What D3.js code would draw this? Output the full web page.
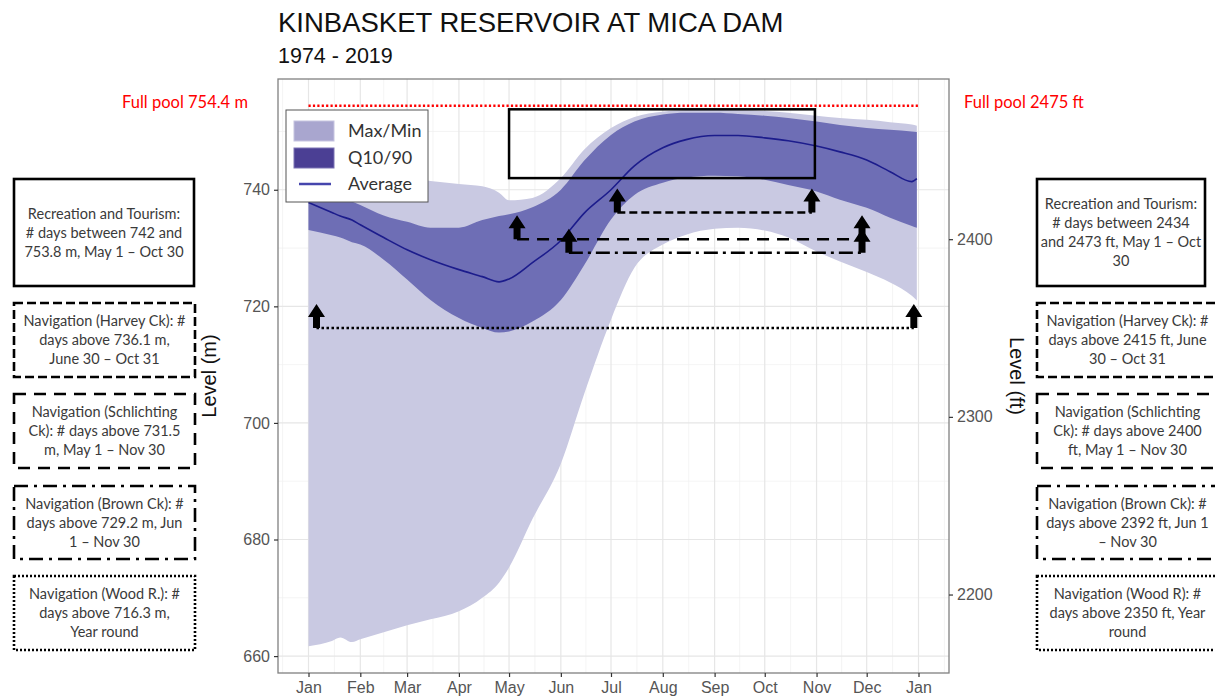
<!DOCTYPE html>
<html>
<head>
<meta charset="utf-8">
<script src="https://cdn.jsdelivr.net/npm/d3@7"></script>
<style>
body { margin: 0; background: #fff; }
.note { font-family: Lato, "Open Sans", sans-serif; font-size: 14.5px; fill: #3a3a3a; }
.tick text { font-family: "Liberation Sans", Arial, sans-serif; font-size: 16px; fill: #555; }
</style>
</head>
<body>
<div id="chart"></div>
<script>
// ---- data ----
var days = ["2019-01-01","2019-01-15","2019-01-20","2019-01-27","2019-02-01","2019-02-15","2019-03-01","2019-03-15",
            "2019-04-01","2019-04-15","2019-04-25","2019-05-01","2019-05-15","2019-06-01","2019-06-15","2019-07-01",
            "2019-07-15","2019-08-01","2019-08-15","2019-09-01","2019-09-15","2019-10-01","2019-10-15","2019-11-01",
            "2019-11-15","2019-12-01","2019-12-15","2019-12-28","2019-12-31"];
var maxLevel = [743, 742.5, 742.3, 742, 741.8, 741.6, 742, 741.5, 741, 740.6, 739.5, 738.2, 738.6, 742, 746.9, 750.6,
                752.5, 753.4, 753.7, 753.7, 753.7, 753.5, 753.2, 752.7, 752.3, 752, 751.6, 751.2, 751];
var q90Level = [739.8, 739, 738.5, 738, 737.4, 735.6, 734.5, 733.5, 733.5, 734.8, 735.5, 735.8, 737, 740, 745, 749.4,
                751.7, 752.9, 753.2, 753.2, 753, 752.7, 752.3, 751.7, 751.1, 750.6, 750.3, 750, 749.9];
var avgLevel = [737.8, 736.1, 735.5, 734.8, 734, 731.8, 729.7, 728, 726.3, 725.1, 724.2, 724.7, 727.5, 731.3, 736, 740,
                744.1, 747.2, 748.6, 749.3, 749.3, 748.9, 748.4, 747.5, 746.5, 745.1, 743.1, 741.4, 741.9];
var q10Level = [733.1, 732.2, 731.8, 731, 730.6, 728, 724.6, 721.1, 718, 716.3, 715.5, 715.7, 717.4, 721.1, 727.1, 734.9,
                739.1, 741.2, 742.1, 742.4, 742.3, 741.7, 740.8, 739.7, 738.3, 736.9, 735.2, 733.8, 733.5];
var minLevel = [661.7, 662.6, 663.2, 662.4, 662.9, 664.1, 665.3, 666.3, 667.7, 670, 672.6, 675.2, 683.5, 693, 705, 717.7,
                726.6, 730.6, 732.3, 733.3, 733.5, 733, 731.8, 729.4, 727.7, 725.9, 724.1, 721.8, 721];

var levelTicksM = [660, 680, 700, 720, 740];
var levelTicksFt = [2200, 2300, 2400];
var fullPoolM = 754.4;
var fullPoolFt = 2475;

var recLow = 742, recHigh = 753.8, recStart = "2019-05-01", recEnd = "2019-10-31";
var navLevels = [736.1, 731.5, 729.2, 716.3];
var navStart = ["2019-06-30", "2019-05-01", "2019-06-01", "2019-01-01"];
var navEnd = ["2019-10-31", "2019-11-30", "2019-11-30", "2019-12-31"];

var leftNotes = [
    ["Recreation and Tourism:", "# days between 742 and", "753.8 m, May 1 \u2013 Oct 30"],
    ["Navigation (Harvey Ck): #", "days above 736.1 m,", "June 30 \u2013 Oct 31"],
    ["Navigation (Schlichting", "Ck): # days above 731.5", "m, May 1 \u2013 Nov 30"],
    ["Navigation (Brown Ck): #", "days above 729.2 m, Jun", "1 \u2013 Nov 30"],
    ["Navigation (Wood R.): #", "days above 716.3 m,", "Year round"]
];
var rightNotes = [
    ["Recreation and Tourism:", "# days between 2434", "and 2473 ft, May 1 \u2013 Oct", "30"],
    ["Navigation (Harvey Ck): #", "days above 2415 ft, June", "30 \u2013 Oct 31"],
    ["Navigation (Schlichting", "Ck): # days above 2400", "ft, May 1 \u2013 Nov 30"],
    ["Navigation (Brown Ck): #", "days above 2392 ft, Jun 1", "\u2013 Nov 30"],
    ["Navigation (Wood R): #", "days above 2350 ft, Year", "round"]
];
var legendLabels = ["Max/Min", "Q10/90", "Average"];

// ---- layout ----
var svgWidth = 1215;
var svgHeight = 698;
var margin = { top: 79, right: 266, bottom: 25, left: 278 };
var width = svgWidth - margin.left - margin.right;
var height = svgHeight - margin.top - margin.bottom;

var parseDay = d3.timeParse("%Y-%m-%d");
var data = days.map(function(d, i) {
    return { date: parseDay(d), max: maxLevel[i], q90: q90Level[i], avg: avgLevel[i], q10: q10Level[i], min: minLevel[i] };
});

var svg = d3.select("#chart").append("svg")
    .attr("width", svgWidth)
    .attr("height", svgHeight)
    .style("font-family", "'Liberation Sans', Arial, sans-serif");

var chartGroup = svg.append("g")
    .attr("transform", `translate(${margin.left}, ${margin.top})`);

// 5% padding on the time axis like ggplot
var yearStart = parseDay("2019-01-01"), yearEnd = parseDay("2020-01-01");
var pad = (yearEnd - yearStart) * 0.05;
var xTimeScale = d3.scaleTime()
    .domain([new Date(+yearStart - pad), new Date(+yearEnd + pad)])
    .range([0, width]);

var yLinearScale = d3.scaleLinear()
    .domain([657.1, 759])
    .range([height, 0]);
var yFeetScale = d3.scaleLinear()
    .domain(yLinearScale.domain().map(function(m) { return m / 0.3048; }))
    .range([height, 0]);

// grid
var majorX = d3.timeMonth.range(yearStart, d3.timeMonth.offset(yearEnd, 1));
var minorX = d3.range(-1, majorX.length).map(function(i) {
    var a = d3.timeMonth.offset(yearStart, i), b = d3.timeMonth.offset(yearStart, i + 1);
    return new Date((+a + +b) / 2);
});
var grid = chartGroup.append("g");
grid.selectAll(".minx").data(minorX).enter().append("line")
    .attr("x1", d => xTimeScale(d)).attr("x2", d => xTimeScale(d))
    .attr("y1", 0).attr("y2", height)
    .attr("stroke", "#efefef").attr("stroke-width", 0.7);
grid.selectAll(".miny").data([670, 690, 710, 730, 750]).enter().append("line")
    .attr("x1", 0).attr("x2", width)
    .attr("y1", d => yLinearScale(d)).attr("y2", d => yLinearScale(d))
    .attr("stroke", "#efefef").attr("stroke-width", 0.7);
grid.selectAll(".majx").data(majorX).enter().append("line")
    .attr("x1", d => xTimeScale(d)).attr("x2", d => xTimeScale(d))
    .attr("y1", 0).attr("y2", height)
    .attr("stroke", "#e6e6e6").attr("stroke-width", 1.2);
grid.selectAll(".majy").data(levelTicksM).enter().append("line")
    .attr("x1", 0).attr("x2", width)
    .attr("y1", d => yLinearScale(d)).attr("y2", d => yLinearScale(d))
    .attr("stroke", "#e6e6e6").attr("stroke-width", 1.2);

// bands
var outerArea = d3.area()
    .x(d => xTimeScale(d.date))
    .y0(d => yLinearScale(d.min))
    .y1(d => yLinearScale(d.max))
    .curve(d3.curveMonotoneX);
var innerArea = d3.area()
    .x(d => xTimeScale(d.date))
    .y0(d => yLinearScale(d.q10))
    .y1(d => yLinearScale(d.q90))
    .curve(d3.curveMonotoneX);
var avgLine = d3.line()
    .x(d => xTimeScale(d.date))
    .y(d => yLinearScale(d.avg))
    .curve(d3.curveMonotoneX);

chartGroup.append("path").datum(data).attr("d", outerArea).attr("fill", "#c9c9e2");
chartGroup.append("path").datum(data).attr("d", innerArea).attr("fill", "#6e6eb5");
chartGroup.append("path").datum(data).attr("d", avgLine)
    .attr("fill", "none").attr("stroke", "#1c1c8c").attr("stroke-width", 1.6);

// full pool
chartGroup.append("line")
    .attr("x1", xTimeScale(yearStart)).attr("x2", xTimeScale(yearEnd))
    .attr("y1", yLinearScale(fullPoolM)).attr("y2", yLinearScale(fullPoolM))
    .attr("stroke", "#ff0000").attr("stroke-width", 2.4).attr("stroke-dasharray", "2.2 2.2");

// recreation window
chartGroup.append("rect")
    .attr("x", xTimeScale(parseDay(recStart)))
    .attr("y", yLinearScale(recHigh))
    .attr("width", xTimeScale(parseDay(recEnd)) - xTimeScale(parseDay(recStart)))
    .attr("height", yLinearScale(recLow) - yLinearScale(recHigh))
    .attr("fill", "none").attr("stroke", "#000").attr("stroke-width", 2.5);

// navigation thresholds
var navDash = ["8 4", "12 8", "14 5 3 5", "2.5 2.5"];
function upArrow(cx, by) {
    return `M${cx - 3.5},${by} L${cx - 3.5},${by - 11} L${cx - 8.5},${by - 11} L${cx},${by - 24} ` +
           `L${cx + 8.5},${by - 11} L${cx + 3.5},${by - 11} L${cx + 3.5},${by} Z`;
}
navLevels.forEach(function(lev, i) {
    var xa = xTimeScale(parseDay(navStart[i])) + 8;
    var xb = xTimeScale(parseDay(navEnd[i])) - 3;
    var yy = yLinearScale(lev);
    chartGroup.append("line")
        .attr("x1", xa).attr("x2", xb).attr("y1", yy).attr("y2", yy)
        .attr("stroke", "#000").attr("stroke-width", 2.5).attr("stroke-dasharray", navDash[i]);
    chartGroup.append("path").attr("d", upArrow(xa, yy)).attr("fill", "#000");
    chartGroup.append("path").attr("d", upArrow(xb, yy)).attr("fill", "#000");
});

// panel border
chartGroup.append("rect")
    .attr("width", width).attr("height", height)
    .attr("fill", "none").attr("stroke", "#808080").attr("stroke-width", 1.3);

// axes
var leftAxis = d3.axisLeft(yLinearScale).tickValues(levelTicksM).tickSize(4).tickPadding(4);
var rightAxis = d3.axisRight(yFeetScale).tickValues(levelTicksFt).tickSize(4).tickPadding(4)
    .tickFormat(d3.format("d"));
var bottomAxis = d3.axisBottom(xTimeScale).tickValues(majorX).tickSize(4).tickPadding(5)
    .tickFormat(d3.timeFormat("%b"));

[chartGroup.append("g").call(leftAxis),
 chartGroup.append("g").attr("transform", `translate(${width}, 0)`).call(rightAxis),
 chartGroup.append("g").attr("transform", `translate(0, ${height})`).call(bottomAxis)
].forEach(function(g) {
    g.select(".domain").remove();
    g.selectAll(".tick line").attr("stroke", "#333").attr("stroke-width", 1.2);
});

// axis titles
svg.append("text")
    .attr("transform", `translate(216, ${margin.top + height / 2}) rotate(-90)`)
    .attr("text-anchor", "middle")
    .attr("font-size", 20).attr("fill", "#111")
    .text("Level (m)");
svg.append("text")
    .attr("transform", `translate(1010, ${margin.top + height / 2}) rotate(90)`)
    .attr("text-anchor", "middle")
    .attr("font-size", 20).attr("fill", "#111")
    .text("Level (ft)");

// titles
svg.append("text").attr("x", 278).attr("y", 32)
    .attr("font-size", 27.5).attr("fill", "#111")
    .text("KINBASKET RESERVOIR AT MICA DAM");
svg.append("text").attr("x", 278).attr("y", 63)
    .attr("font-size", 21.5).attr("fill", "#111")
    .text("1974 - 2019");

// full pool labels
svg.append("text").attr("x", 248).attr("y", 108)
    .attr("text-anchor", "end").attr("class", "note").style("fill", "#ff0000").style("font-size", "16.5px")
    .text("Full pool " + fullPoolM + " m");
svg.append("text").attr("x", 964).attr("y", 108)
    .attr("class", "note").style("fill", "#ff0000").style("font-size", "16.5px")
    .text("Full pool " + fullPoolFt + " ft");

// legend
var legend = svg.append("g").attr("transform", "translate(286, 110)");
legend.append("rect").attr("width", 142).attr("height", 92)
    .attr("fill", "#fff").attr("stroke", "#555").attr("stroke-width", 1);
legend.append("rect").attr("x", 8).attr("y", 11).attr("width", 40).attr("height", 20)
    .attr("fill", "#a9a6cf").attr("stroke", "#c6c4e0");
legend.append("rect").attr("x", 8).attr("y", 38).attr("width", 40).attr("height", 20)
    .attr("fill", "#4b3f94").attr("stroke", "#7d74b4");
legend.append("line").attr("x1", 13).attr("x2", 45).attr("y1", 74).attr("y2", 74)
    .attr("stroke", "#4646ad").attr("stroke-width", 2.5);
legend.selectAll(".lg").data(legendLabels).enter().append("text")
    .attr("class", "note")
    .attr("x", 62).attr("y", (d, i) => 21 + i * 26.5)
    .attr("dy", "0.35em")
    .style("font-size", "18px").style("fill", "#333")
    .text(d => d);

// note boxes
var boxTops = [179, 303, 394, 486, 576];
var boxBottoms = [286, 377, 468, 559, 650];
var boxDash = [null, "9 4", "12 8", "14 6 3 6", "2 2"];
function drawNotes(notes, x0, x1s) {
    notes.forEach(function(lines, i) {
        var x1 = x1s[i];
        svg.append("rect")
            .attr("x", x0).attr("y", boxTops[i])
            .attr("width", x1 - x0).attr("height", boxBottoms[i] - boxTops[i])
            .attr("fill", "none").attr("stroke", "#000").attr("stroke-width", 2.6)
            .attr("stroke-dasharray", boxDash[i]);
        var cy = (boxTops[i] + boxBottoms[i]) / 2;
        var cx = (x0 + x1) / 2;
        svg.selectAll(null).data(lines).enter().append("text")
            .attr("class", "note")
            .attr("x", cx)
            .attr("y", (d, j) => cy + (j - (lines.length - 1) / 2) * 19)
            .attr("dy", "0.35em")
            .attr("text-anchor", "middle")
            .text(d => d);
    });
}
drawNotes(leftNotes, 14, [194, 195, 195, 195, 195]);
drawNotes(rightNotes, 1037, [1205, 1218, 1218, 1218, 1218]);
</script>
</body>
</html>
